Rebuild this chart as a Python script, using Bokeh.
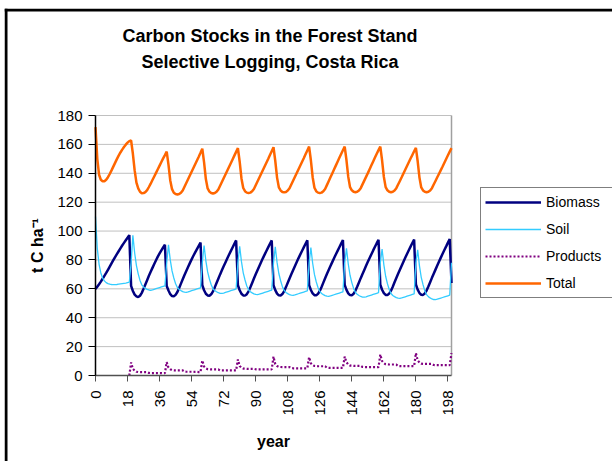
import math
from bokeh.plotting import figure
from bokeh.models import Range1d, FixedTicker, Legend, LegendItem, Label, Span
from bokeh.embed import file_html
from bokeh.resources import INLINE

# ---------------- data ----------------
years = list(range(201))
x_ticks = list(range(0, 199, 18))
y_ticks = list(range(0, 181, 20))

biomass = [
    60.0, 61.5, 63.2, 65.0, 67.0, 69.0, 71.0, 73.2, 75.4, 77.6, 79.8, 82.0, 84.0, 86.0, 88.0, 90.0, 91.8, 93.6, 95.4, 97.2,
    62.0, 58.5, 56.0, 54.8, 54.3, 55.2, 57.2, 60.0, 63.0, 66.0, 69.0, 71.8, 74.5, 77.2, 79.8, 82.3, 84.5, 86.6, 88.6, 90.5,
    62.0, 58.8, 56.3, 55.0, 54.8, 55.8, 57.8, 60.6, 63.6, 66.6, 69.6, 72.4, 75.1, 77.8, 80.4, 82.9, 85.2, 87.5, 89.8, 92.0,
    62.5, 59.0, 56.6, 55.4, 55.2, 56.2, 58.2, 61.0, 64.0, 67.0, 70.0, 72.8, 75.6, 78.3, 81.0, 83.6, 86.1, 88.6, 91.1, 93.5,
    62.5, 59.0, 56.6, 55.4, 55.3, 56.3, 58.3, 61.1, 64.1, 67.1, 70.1, 72.9, 75.7, 78.4, 81.1, 83.7, 86.2, 88.7, 91.2, 93.5,
    62.5, 59.1, 56.7, 55.5, 55.4, 56.4, 58.4, 61.2, 64.2, 67.2, 70.1, 72.9, 75.7, 78.4, 81.1, 83.7, 86.2, 88.7, 91.2, 93.6,
    62.6, 59.2, 56.8, 55.6, 55.5, 56.5, 58.5, 61.3, 64.3, 67.3, 70.2, 73.0, 75.8, 78.5, 81.2, 83.8, 86.3, 88.8, 91.3, 93.7,
    62.7, 59.3, 56.9, 55.7, 55.6, 56.6, 58.6, 61.4, 64.4, 67.4, 70.3, 73.1, 75.9, 78.7, 81.4, 84.0, 86.6, 89.1, 91.6, 94.0,
    62.8, 59.4, 57.0, 55.8, 55.7, 56.7, 58.7, 61.5, 64.5, 67.5, 70.4, 73.2, 76.0, 78.8, 81.5, 84.1, 86.7, 89.2, 91.7, 94.1,
    63.0, 59.5, 57.1, 55.9, 55.8, 56.8, 58.8, 61.6, 64.6, 67.6, 70.5, 73.3, 76.1, 78.9, 81.6, 84.3, 86.9, 89.4, 92.0, 94.5,
    64.0,
]

soil = [
    110.0, 88.0, 77.0, 71.0, 67.5, 65.5, 64.3, 63.6, 63.2, 63.0, 62.9, 62.9, 63.0, 63.2, 63.4, 63.6, 63.8, 64.0, 64.3, 64.6,
    78.0, 97.0, 84.8, 76.1, 70.4, 65.8, 62.8, 61.3, 60.3, 59.6, 59.2, 59.0, 59.3, 59.7, 60.1, 60.5, 60.9, 61.3, 61.7, 62.1,
    78.0, 90.5, 80.0, 72.4, 67.5, 63.5, 60.9, 59.6, 58.8, 58.1, 57.7, 57.6, 57.9, 58.3, 58.7, 59.1, 59.5, 59.9, 60.3, 60.7,
    78.0, 90.0, 79.4, 71.7, 66.8, 62.8, 60.1, 58.8, 58.0, 57.3, 56.9, 56.8, 57.1, 57.5, 57.9, 58.3, 58.7, 59.1, 59.5, 59.9,
    78.0, 89.5, 78.8, 71.1, 66.1, 62.0, 59.4, 58.0, 57.2, 56.5, 56.1, 56.0, 56.3, 56.7, 57.1, 57.5, 57.9, 58.3, 58.7, 59.1,
    78.0, 89.0, 78.3, 70.6, 65.6, 61.5, 58.9, 57.5, 56.7, 56.0, 55.6, 55.5, 55.8, 56.2, 56.6, 57.0, 57.4, 57.8, 58.2, 58.6,
    78.0, 88.5, 77.7, 70.0, 64.9, 60.9, 58.2, 56.8, 56.0, 55.3, 54.9, 54.8, 55.1, 55.5, 55.9, 56.3, 56.7, 57.1, 57.5, 57.9,
    78.0, 88.0, 77.2, 69.4, 64.3, 60.3, 57.6, 56.2, 55.4, 54.7, 54.3, 54.2, 54.5, 54.9, 55.3, 55.7, 56.1, 56.5, 56.9, 57.3,
    78.0, 87.5, 76.6, 68.7, 63.6, 59.5, 56.8, 55.4, 54.6, 53.9, 53.5, 53.4, 53.7, 54.1, 54.5, 54.9, 55.3, 55.7, 56.1, 56.5,
    78.0, 87.0, 75.9, 68.0, 62.9, 58.7, 56.0, 54.6, 53.7, 53.0, 52.6, 52.5, 52.8, 53.2, 53.6, 54.0, 54.4, 54.8, 55.2, 55.6,
    78.0,
]

product_years = list(range(19, 201))
products = [
    0.0,
    9.0, 4.6, 3.4, 2.6, 2.4, 2.3, 2.3, 2.3, 2.3, 2.3, 1.8, 1.7, 1.7, 1.7, 1.7, 1.7, 1.7, 1.7, 1.6, 1.6,
    9.2, 5.5, 4.3, 3.7, 3.6, 3.5, 3.5, 3.5, 3.5, 3.5, 2.7, 2.6, 2.6, 2.6, 2.6, 2.6, 2.5, 2.5, 2.4, 2.4,
    10.4, 6.2, 5.0, 4.4, 4.3, 4.2, 4.2, 4.2, 4.2, 4.2, 3.6, 3.5, 3.5, 3.5, 3.5, 3.5, 3.5, 3.5, 3.5, 3.5,
    11.1, 6.6, 5.4, 4.8, 4.7, 4.6, 4.6, 4.6, 4.6, 4.6, 4.3, 4.2, 4.2, 4.2, 4.2, 4.2, 4.2, 4.2, 4.2, 4.2,
    13.1, 7.8, 6.6, 6.0, 5.9, 5.8, 5.8, 5.8, 5.8, 5.8, 5.1, 5.0, 5.0, 5.0, 5.0, 5.0, 5.0, 5.0, 5.0, 5.0,
    12.7, 8.5, 7.2, 6.6, 6.5, 6.4, 6.4, 6.4, 6.4, 6.4, 5.4, 5.3, 5.3, 5.3, 5.3, 5.3, 5.3, 5.3, 5.3, 5.3,
    13.1, 9.2, 7.6, 6.9, 6.8, 6.7, 6.7, 6.7, 6.7, 6.7, 5.9, 5.8, 5.8, 5.8, 5.8, 5.8, 5.8, 5.8, 5.8, 5.8,
    14.5, 10.0, 8.6, 7.8, 7.7, 7.6, 7.6, 7.6, 7.6, 7.6, 6.6, 6.5, 6.5, 6.5, 6.5, 6.5, 6.5, 6.5, 6.5, 6.5,
    15.5, 10.5, 9.0, 8.2, 8.1, 8.0, 8.0, 8.0, 8.0, 8.0, 7.3, 7.2, 7.2, 7.2, 7.2, 7.2, 7.2, 7.2, 7.2, 7.2,
    15.5,
]

total = [
    172.0, 150.0, 139.0, 135.5, 134.5, 134.5, 135.5, 137.3, 139.5, 142.0, 144.6, 147.2, 149.8, 152.2, 154.4, 156.4, 158.2, 159.8, 161.2, 162.3,
    162.7,
    153.5, 142.0, 133.5, 129.5, 127.2, 126.2, 126.3, 127.0, 128.3, 130.5, 132.8, 135.3, 137.8, 140.3, 142.8, 145.3, 147.8, 150.3, 152.6, 155.0,
    146.0, 135.0, 129.0, 126.5, 125.6, 125.3, 125.6, 126.5, 128.1, 130.7, 133.3, 135.9, 138.5, 141.1, 143.7, 146.3, 148.9, 151.5, 154.2, 157.0,
    147.5, 136.0, 129.5, 127.3, 126.3, 126.0, 126.3, 127.2, 128.8, 131.4, 134.0, 136.6, 139.2, 141.8, 144.4, 147.0, 149.6, 152.2, 154.8, 157.4,
    148.0, 136.4, 129.8, 127.6, 126.6, 126.3, 126.6, 127.5, 129.1, 131.7, 134.3, 136.9, 139.5, 142.1, 144.7, 147.3, 149.9, 152.6, 155.3, 158.0,
    148.5, 137.0, 130.3, 128.1, 127.1, 126.8, 127.1, 128.0, 129.6, 132.2, 134.8, 137.4, 140.0, 142.6, 145.2, 147.8, 150.4, 153.1, 155.8, 158.5,
    149.0, 137.3, 130.0, 127.6, 126.6, 126.3, 126.6, 127.5, 129.1, 131.8, 134.5, 137.2, 139.9, 142.6, 145.3, 148.0, 150.7, 153.3, 155.9, 158.5,
    149.0, 137.5, 130.4, 128.2, 127.2, 126.9, 127.2, 128.1, 129.7, 132.3, 134.9, 137.5, 140.1, 142.8, 145.5, 148.2, 150.9, 153.5, 156.0, 158.5,
    149.0, 137.5, 130.4, 128.2, 127.2, 126.9, 127.2, 128.1, 129.7, 132.2, 134.7, 137.2, 139.8, 142.4, 145.0, 147.6, 150.2, 152.7, 155.2, 157.6,
    148.3, 137.0, 130.2, 128.1, 127.2, 126.9, 127.2, 128.1, 129.7, 132.2, 134.7, 137.2, 139.7, 142.2, 144.7, 147.3, 149.9, 152.5, 155.0, 157.4,
]

series_names = ["Biomass", "Soil", "Products", "Total"]
title_lines = ["Carbon Stocks in the Forest Stand", "Selective Logging, Costa Rica"]
x_label = "year"
y_label = "t C ha\u207b\u00b9"

# ---------------- layout (pixels on the page) ----------------
W, H = 612, 461
FRAME_L, FRAME_T = 4, 8            # outer chart-area frame (Excel style)
PA_L, PA_R, PA_T, PA_B = 95.0, 451.0, 115.0, 375.0   # plot area
X_MAX, Y_MAX = 200.0, 180.0
SX = (PA_R - PA_L) / X_MAX
SY = (PA_B - PA_T) / Y_MAX


def px_x(px):
    return (px - PA_L) / SX


def px_y(py):
    return (PA_B - py) / SY


FONT = "Liberation Sans"

p = figure(width=W, height=H, output_backend="svg", toolbar_location=None, title=None,
           x_range=Range1d(px_x(FRAME_L), px_x(W)), y_range=Range1d(px_y(H), px_y(FRAME_T)),
           min_border_left=FRAME_L, min_border_right=0, min_border_top=FRAME_T, min_border_bottom=0,
           background_fill_color="white", border_fill_color="white")
p.outline_line_color = None
p.xgrid.visible = False
p.ygrid.visible = False

# outer chart border (left and top edges visible in the window)
p.add_layout(Span(location=px_x(FRAME_L + 1.5), dimension="height", line_color="black", line_width=3))
p.add_layout(Span(location=px_y(FRAME_T + 1.5), dimension="width", line_color="black", line_width=3))

# horizontal gridlines and plot-area border, only across the plot area
p.segment(x0=[0] * len(y_ticks[1:]), x1=[X_MAX] * len(y_ticks[1:]), y0=y_ticks[1:], y1=y_ticks[1:],
          line_color="#c0c0c0", line_width=1)
p.segment(x0=[X_MAX], x1=[X_MAX], y0=[0], y1=[Y_MAX], line_color="#a0a0a0", line_width=1.5)

# axes drawn at the plot-area edges
p.xaxis.fixed_location = 0
p.yaxis.fixed_location = 0
p.xaxis.bounds = (0, X_MAX)
p.yaxis.bounds = (0, Y_MAX)
p.xaxis.ticker = FixedTicker(ticks=x_ticks)
p.yaxis.ticker = FixedTicker(ticks=y_ticks)
for ax in (p.xaxis, p.yaxis):
    ax.major_label_text_font = FONT
    ax.major_label_text_font_size = "15px"
    ax.major_label_text_color = "black"
    ax.axis_label_text_font = FONT
    ax.axis_label_text_font_size = "16px"
    ax.axis_label_text_font_style = "bold"
    ax.axis_label_text_color = "black"
    ax.major_tick_line_color = "black"
    ax.major_tick_in = 0
    ax.minor_tick_line_color = None

p.xaxis.axis_line_color = "#505050"
p.xaxis.axis_line_width = 1.5
p.xaxis.major_tick_line_color = "#505050"
p.xaxis.major_tick_out = 6
p.xaxis.major_label_orientation = math.pi / 2
p.xaxis.major_label_standoff = 9
p.xaxis.axis_label = x_label
p.xaxis.axis_label_standoff = 14

p.yaxis.axis_line_color = "black"
p.yaxis.axis_line_width = 1.5
p.yaxis.major_tick_out = 7
p.yaxis.major_label_standoff = 6
p.yaxis.axis_label = y_label
p.yaxis.axis_label_standoff = 8

# title
for line, base_px in zip(title_lines, (35.5, 61.0)):
    p.add_layout(Label(x=px_x(269.5), y=px_y(base_px), text=line, text_align="center",
                       text_baseline="alphabetic", text_font=FONT, text_font_size="18px",
                       text_font_style="bold", text_color="black"))

# series
r_bio = p.line(years, biomass, line_color="#000080", line_width=2.5)
r_soil = p.line(years, soil, line_color="#33ccff", line_width=1.3)
r_prod = p.line(product_years, products, line_color="#800080", line_width=2.2, line_dash="2 2")
r_tot = p.line(years, total, line_color="#ff6600", line_width=2.5)

legend = Legend(items=[LegendItem(label=series_names[0], renderers=[r_bio]),
                       LegendItem(label=series_names[1], renderers=[r_soil]),
                       LegendItem(label=series_names[2], renderers=[r_prod]),
                       LegendItem(label=series_names[3], renderers=[r_tot])],
                location=(480 - FRAME_L, H - 298), orientation="vertical",
                border_line_color="black", border_line_width=1,
                background_fill_color="white", background_fill_alpha=1.0,
                label_text_font=FONT, label_text_font_size="14px", label_text_color="black",
                glyph_width=56, glyph_height=20, label_height=20, label_width=80,
                label_standoff=5, spacing=7, padding=4, margin=0)
p.add_layout(legend, "center")

open("out.html", "w").write(file_html(p, INLINE))
